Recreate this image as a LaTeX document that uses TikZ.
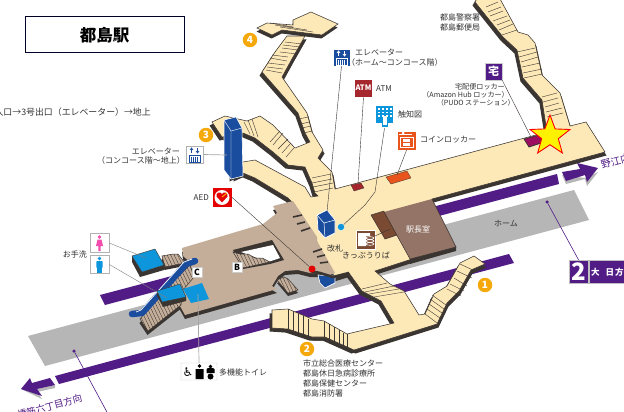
\documentclass[tikz,border=0pt]{standalone}
\usepackage{fontspec}
\setmainfont{Noto Sans CJK JP}
\newfontfamily\symfont{DejaVu Sans}
\usetikzlibrary{shapes.geometric}
\definecolor{creamc}{HTML}{FDE8B7}
\definecolor{tanc}{HTML}{C4AE9A}
\definecolor{darkc}{HTML}{3B3532}
\definecolor{navyc}{HTML}{1B4D9E}
\definecolor{skyc}{HTML}{0D96DB}
\definecolor{purc}{HTML}{521C87}
\definecolor{grayc}{HTML}{B6B6B6}
\definecolor{roomc}{HTML}{937466}
\definecolor{stripc}{HTML}{7A4A32}
\definecolor{orangec}{HTML}{E9541C}
\definecolor{atmc}{HTML}{A6262E}
\definecolor{plumc}{HTML}{9C0D62}
\definecolor{badgec}{HTML}{F5A80A}
\definecolor{txtc}{HTML}{333333}
\newcommand\mainpoly{(335,189) -- (547,132) -- (542,100) -- (523,78) -- (517,50) -- (503,37) -- (475,2) -- (478,-3) -- (499,-3) -- (518,32) -- (528,35) -- (535,43) -- (542,75) -- (560,93) -- (570,126) -- (586,122) -- (605,152) -- (432,199) -- (412,259) -- (375,271) -- (390,284) -- (404,291) -- (419,315) -- (425,314) -- (434,294) -- (447,286) -- (460,263) -- (474,256) -- (485,264) -- (471,270) -- (459,291) -- (447,303) -- (437,324) -- (354,350) -- (325,337) -- (312,337) -- (288,329) -- (272,328) -- (272,310) -- (288,309) -- (312,319) -- (324,321) -- (347,334) -- (394,323) -- (381,301) -- (362,291) -- (349,273) -- (333,278) -- (320,272) -- (300,240) -- (295,205) -- (288,198) -- (255,178) -- (243,173) -- (232,178) -- (232,165) -- (243,162) -- (255,160) -- (305,187) -- (311,197) -- (318,196) -- (315,193) -- (312,183) -- (305,167) -- (288,165) -- (273,152) -- (255,138) -- (243,133) -- (222,137) -- (212,122) -- (225,116) -- (238,119) -- (247,121) -- (260,116) -- (273,125) -- (295,148) -- (310,142) -- (305,133) -- (298,113) -- (262,72) -- (275,52) -- (287,36) -- (305,36) -- (293,57) -- (282,77) -- (307,113) -- (312,132) -- (323,150) -- (318,158) -- (332,172) -- cycle}
\newcommand\toppoly{(257,28) -- (267,23) -- (293,25) -- (293,20) -- (311,12) -- (338,24) -- (322,35) -- (282,30) -- (272,35) -- cycle}
\newcommand\tanpoly{(182,248) -- (263,224) -- (277,213) -- (273,206) -- (293,201) -- (317,237) -- (317,241) -- (335,273) -- (327,276) -- (320,273) -- (310,273) -- (298,270) -- (285,271) -- (278,276) -- (272,286) -- (277,289) -- (185,315) -- (180,306) -- (172,290) -- (190,262) -- (183,256) -- cycle}
\newcommand\hatchc{(140,319) -- (165,290) -- (190,265) -- (194,277) -- (183,290) -- (181,305) -- (172,312) -- (148,331) -- cycle}
\newcommand\hatchw{(162,256) -- (173,254) -- (178,254) -- (185,263) -- (165,267) -- cycle}
\newcommand\hatchb{(233,252) -- (243,268) -- (270,262) -- (262,258) -- (255,258) -- (248,254) -- (240,254) -- cycle}
\newcommand\hatchd{(277,280) -- (284,277) -- (288,279) -- (298,290) -- (288,293) -- cycle}
\newcommand\hatched[1]{\begin{scope}\clip #1;\fill[tanc] #1;\foreach \x in {90,93.5,...,320}{\draw[darkc,line width=.35] (\x,240) -- ({\x+48},340);}\end{scope}\draw[darkc,line width=.5] #1;}
\newcommand\elevglyph[4]{\begin{scope}[shift={(#1,#2)},#3,line width=.7]
\draw (-3,-7) -- (-3,-2);\draw (3,-7) -- (3,-2);
\draw (-4.5,-5) -- (-3,-7) -- (-1.5,-5);\draw (1.5,-4) -- (3,-2) -- (4.5,-4);
\draw[fill=#4] (-5.5,0) rectangle (5.5,7);
\foreach \u in {-3,-1,1,3}{\draw (\u,2) -- (\u,7);}
\end{scope}}
\tikzset{
 stairline/.style={darkc,line width=.4},
 shadowp/.style={fill=darkc},
 outlinep/.style={draw=darkc,line width=.55},
 lbl/.style={inner sep=0,text=txtc,font=\fontsize{8}{8}\selectfont},
 lblsmall/.style={lbl,font=\fontsize{7.1}{7.1}\selectfont},
 badge/.style={circle,fill=badgec,text=white,inner sep=0,minimum size=14.5,font=\bfseries\fontsize{10}{10}\selectfont},
 iconbox/.style={draw=white,line width=.4,inner sep=0,minimum size=#1},
 lead/.style={draw=darkc,line width=.4},
 glead/.style={draw=gray!70,line width=.7},
 letter/.style={draw=gray!40,fill=white,inner sep=0,minimum size=10.5,text=black,font=\bfseries\fontsize{8.5}{8.5}\selectfont},
 wcbox/.style={draw=gray!60,fill=white,line width=.6,inner sep=0,minimum width=19,minimum height=18.5},
 dotp/.style={circle,fill=purc,inner sep=0,minimum size=3.5},
}
\begin{document}
\begin{tikzpicture}[x=1pt,y=-1pt]
\useasboundingbox (0,0) rectangle (624,412);
\fill[white] (0,0) rectangle (624,412);
% platform and tracks
\fill[grayc] (28,336) -- (574,190) -- (589,220) -- (45,366) -- cycle;
\fill[purc] (100,295) -- (557,174) -- (559,184) -- (105,305) -- cycle;
\fill[purc] (55,376) -- (509,254) -- (514,263) -- (59,384) -- cycle;
\node[dotp] (dotr) at (547,202) {};
\node[dotp] (dotl) at (74,351) {};
% direction arrows
\fill[grayc] (562,175) -- (566,184) -- (585,179) -- (587,186) -- (598,172) -- (585,178) -- cycle;
\fill[purc] (562,172) -- (566,181) -- (585,175) -- (587,182) -- (598,168) -- (577,163) -- (580,169) -- cycle;
\fill[grayc] (21,389) -- (42,399) -- (37,392) -- (55,388) -- (55,385) -- (37,389) -- cycle;
\fill[purc] (50,378) -- (55,385) -- (37,389) -- (42,396) -- (21,389) -- (30,378) -- (32,383) -- cycle;
% concourse
\fill[shadowp,shift={(-2.5,3.5)}] \mainpoly;
\fill[shadowp,shift={(1.5,3.5)}] \mainpoly;
\fill[creamc,outlinep] \mainpoly;
% stair lines
\foreach \a/\b/\c/\d in {312/178/331/174,312/183/332/179,313/187/333/183,314/192/333/188,
 299/119/308/117,301/124/309/122,302/128/311/126,304/133/312/131,
 270/142/280/131,273/145/283/133,278/149/288/139,282/153/291/143,286/157/294/148,
 244/122/250/134,248/120/254/136,252/119/258/137,
 285/42/302/44,283/45/300/47,282/48/298/50,280/52/297/54,272/55/288/57,270/58/287/61,268/63/285/65,267/67/283/69,266/70/282/73,
 486/7/498/2,488/12/501/7,490/16/503/11,493/21/507/16,497/25/510/20,499/30/513/24,502/35/517/30,
 517/52/535/48,519/57/537/52,521/62/538/57,522/67/540/63,523/73/542/69,524/78/542/74,
 542/97/557/93,543/102/558/98,545/107/559/103,546/112/562/108,547/117/563/113,
 432/295/446/305,430/299/444/309,429/304/442/313,427/309/440/318,425/314/437/323,
 460/264/475/271,457/271/472/278,454/278/467/286,450/284/464/291,447/289/461/296,
 362/289/387/283,365/292/394/286,369/294/399/289,374/297/404/292,
 324/321/324/337,329/324/329/339,334/327/334/342,339/330/339/345,343/333/343/347,347/334/347/349,
 288/309/288/329,293/311/293/331,298/314/298/334,303/316/303/336,308/319/308/338}
 {\draw[stairline] (\a,\b) -- (\c,\d);}
% exit 4 upper piece
\fill[shadowp,shift={(-.5,3.5)}] \toppoly;
\fill[creamc,outlinep] \toppoly;
\draw[stairline] (270,23) -- (293,27) (275,25) -- (307,30) (280,27) -- (313,32);
% tan area
\fill[shadowp,shift={(-.5,3)}] \hatchw;
\hatched{\hatchw}
\fill[shadowp,shift={(-.5,4)}] \hatchc;
\fill[shadowp,shift={(0,4)}] \tanpoly;
\fill[tanc] \tanpoly;
\hatched{\hatchc}
% hole in tan
\fill[darkc] (233,250) -- (272,240) -- (284,260) -- (270,264) -- (243,269) -- cycle;
\fill[white] (241,252) -- (273,245) -- (280,258) -- (268,262) -- cycle;
\hatched{\hatchb}
\fill[shadowp,shift={(0,3)}] \hatchd;
\hatched{\hatchd}
\foreach \a/\b/\c/\d in {293/217/302/215,297/224/305/222,301/231/310/228,313/252/322/249,317/257/325/255,320/263/328/262}
 {\draw[darkc,line width=1.6] (\a,\b) -- (\c,\d);}
% station room
\fill[shadowp] (410,259) -- (456,246) -- (456,251) -- (410,264) -- cycle;
\fill[roomc] (384,212) -- (432,199) -- (456,247) -- (410,259) -- cycle;
\fill[stripc] (371,215) -- (384,211) -- (397,235) -- (385,239) -- cycle;
\draw[darkc,line width=.5] (432,199) -- (456,247) -- (410,259) -- (384,212) (384,211) -- (371,215) -- (385,239) -- (397,235);
% kiosks and small units
\fill[atmc,draw=darkc,line width=.3] (351,185) -- (361,183) -- (364,188) -- (354,191) -- cycle;
\fill[orangec,draw=darkc,line width=.3] (386,177) -- (407,171) -- (411,178) -- (391,184) -- cycle;
\fill[plumc,draw=darkc,line width=.8] (524,139) -- (539,135) -- (544,142) -- (529,147) -- cycle;
% escalator
\draw[navyc,line width=6.5,line cap=round,line join=round] (132,314) -- (142,313) -- (186,264) -- (195,261);
\draw[white,line width=.7] (136,312) -- (141,310) -- (184,262) -- (192,259);
% blue blocks
\fill[shadowp] (132,256) -- (142,272) -- (164,265) -- (164,270) -- (140,277) -- (132,262) -- cycle;
\fill[skyc,draw=darkc,line width=.4] (132,256) -- (155,249) -- (164,265) -- (142,272) -- cycle;
\fill[shadowp] (157,291) -- (162,302) -- (186,297) -- (186,301) -- (163,307) -- (157,296) -- cycle;
\fill[skyc,draw=darkc,line width=.4] (157,291) -- (180,284) -- (186,297) -- (162,302) -- cycle;
\fill[skyc] (183,289) -- (202,283) -- (209,299) -- (191,303) -- cycle;
% elevator tower and boxes
\fill[navyc,draw=white,line width=.6] (224,120) -- (236,117) -- (242,128) -- (243,176) -- (231,179) -- (224,170) -- cycle;
\draw[white,line width=.4] (224,120) -- (231,131) -- (242,128) (231,131) -- (231,179);
\fill[navyc,draw=white,line width=.7] (318,275) -- (335,276) -- (335,283) -- (325,288) -- (320,283) -- cycle;
\draw[darkc,line width=2.6] (310,271) -- (320,273) -- (333,277) -- (349,273);
\fill[navyc,draw=white,line width=.7] (317,215) -- (327,210) -- (335,220) -- (335,233) -- (325,238) -- (318,230) -- cycle;
\draw[white,line width=.5] (317,215) -- (324,223) -- (335,220) (324,223) -- (325,238);
\coordinate (elevboxtop) at (327,212);
\coordinate (atmunit) at (358,184);
\coordinate (coinunit) at (397,175);
\coordinate (plumunit) at (531,137);
\coordinate (towerside) at (227,155);
\coordinate (stripmark) at (390,229);
\coordinate (ladies) at (146,258);
\coordinate (mens) at (167,298);
\coordinate (wcblock) at (198,294);
\coordinate (tactbend) at (375,192);
\coordinate (tactbend2) at (365,205);
\coordinate (offpage) at (108,414);
% dots
\node[circle,fill=skyc,draw=white,line width=.3,inner sep=0,minimum size=7] (bluedot) at (341,227) {};
\node[circle,fill=red!90!black,inner sep=0,minimum size=7] (reddot) at (312,269) {};
% star
\node[star,star points=5,star point ratio=2.4,fill=yellow,draw=red,line width=.9,inner sep=0,minimum size=42] (star) at (550,136) {};
% title
\node[draw=black!85!blue,line width=1,fill=white,minimum width=159,minimum height=36,inner sep=0,font=\fontsize{16.5}{16.5}\selectfont\bfseries] (title) at (104.5,35) {都島駅};
% exit badges
\node[badge] (exit4) at (250,40) {4};
\node[badge] (exit3) at (206,135) {3};
\node[badge] (exit2) at (307,349) {2};
\node[badge] (exit1) at (485,285) {1};
% icons
\node[iconbox=17,fill=navyc] (ielev) at (341.5,57.5) {};
\elevglyph{341.5}{58}{white}{navyc}
\node[iconbox=18,fill=atmc,text=white,font=\bfseries\fontsize{7.5}{7.5}\selectfont] (iatm) at (363.5,88) {ATM};
\node[iconbox=18,fill=skyc] (itact) at (384.5,114) {};
\fill[skyc] (381.5,122) rectangle (387.5,127);
\foreach \i in {378,382,386,390}\foreach \j in {108,111.5,115}{\fill[white] (\i,\j) rectangle ++(1.8,1.8);}
\fill[white] (382.5,116) rectangle (386.5,125);
\node[iconbox=19,fill=orangec] (icoin) at (406.5,140.5) {};
\draw[white,line width=1] (399,134) -- (412,134);
\fill[white] (403,133) circle (1.5);
\draw[white,line width=.9] (400,137.5) rectangle (413,147.5);
\fill[white] (403,139) rectangle (410,146);
\draw[orangec,line width=.5] (403,142) -- (410,142);
\node[iconbox=17,fill=purc,text=white,font=\bfseries\fontsize{11}{11}\selectfont,draw=gray!40] (itaku) at (493.5,71.5) {宅};
\node[draw=gray!60,fill=white,line width=.6,inner sep=0,minimum size=17] (ielev3) at (194.5,154.5) {};
\elevglyph{194.5}{155}{navyc}{white}
\node[iconbox=20,fill=red!90!black] (iaed) at (222,197.5) {};
\fill[white] (222,197.5) circle (7.5);
\fill[red!90!black] (222,202.5) -- (216.5,196.5) .. controls (215.5,192.5) and (220.5,191) .. (222,194) .. controls (223.5,191) and (228.5,192.5) .. (227.5,196.5) -- cycle;
\draw[yellow!80!orange,line width=.7] (222,197) -- (227,193);
\node[iconbox=19,fill=stripc] (iticket) at (365.5,239.5) {};
\fill[white] (358,233) -- (370,233) -- (370,236) -- (366,236) -- (366,246) -- (358,246) -- cycle;
\draw[white,line width=.6] (370,238) ellipse (4 and 1.3) (370,241) ellipse (4 and 1.3) (370,244) ellipse (4 and 1.3);
\node[wcbox] (ifem) at (99.5,243) {};
\fill[magenta!70] (99.5,237) circle (1.8);
\fill[magenta!70] (97.5,239.5) -- (101.5,239.5) -- (103,246) -- (100.7,246) -- (100.7,251) -- (98.3,251) -- (98.3,246) -- (96,246) -- cycle;
\node[wcbox] (imale) at (99.5,264.5) {};
\fill[skyc] (99.5,258.5) circle (1.9);
\fill[skyc,rounded corners=.8] (96.3,261) rectangle (102.7,268);
\fill[skyc] (97.3,267) rectangle (101.7,273);
\node[draw=gray!40,fill=white,line width=.4,rounded corners=.5,inner sep=0,minimum width=36,minimum height=17] (iwc) at (199,371.5) {};
\node[inner sep=0,font=\symfont\fontsize{12}{12}\selectfont,text=black] (iwheel) at (188,372) {♿};
\fill[black] (199.5,366) circle (1.8) (195.5,369) rectangle (203.5,379);
\fill[black] (210.5,366.5) circle (1.8) (206.5,369) .. controls (207,367.5) and (214,367.5) .. (214.5,369) -- (214.5,373) -- (206.5,373) -- cycle;
\fill[black] (210.5,376.5) circle (3);
\node[letter] (lc) at (197,272) {C};
\node[letter] (lb) at (237,267) {B};
% purple sign
\node[draw=gray!50,fill=purc,text=white,inner sep=0,minimum width=19,minimum height=23,font=\bfseries\fontsize{24}{24}\selectfont] (line2) at (578.5,271.5) {2};
\fill[purc,draw=gray!50] (589.5,260) rectangle (626,283);
\node[anchor=west,inner sep=0,text=white,font=\bfseries\fontsize{8.5}{8.5}\selectfont] (line2name) at (591,272) {大\hspace{6pt}日\hspace{1pt}方};
% leaders
\draw[lead] (ielev.south) -- (elevboxtop);
\draw[lead] (iatm.south) -- (atmunit);
\draw[lead] (icoin.south) -- (coinunit);
\draw[lead] (itact.south) ++(0,5) -- (tactbend) -- (tactbend2) -- (bluedot);
\draw[lead] (itaku.south east) -- (plumunit);
\draw[glead] (ielev3.east) -- (towerside);
\draw[lead] (iaed.east) -- (reddot);
\draw[lead] (iticket.20) -- (stripmark);
\draw[lead,draw=gray] (ifem.east) -- (ladies);
\draw[lead,draw=gray] (imale.east) -- (mens);
\draw[glead] (iwc.north) -- (wcblock);
\draw[purc,line width=.6] (dotr) -- (line2.north);
\draw[purc,line width=.6] (dotl) -- (offpage);
% labels
\node[lbl,anchor=east,font=\fontsize{8.9}{8.9}\selectfont] (t1) at (151,112) {入口→3号出口（エレベーター）→地上};
\node[lbl,anchor=east] (t2) at (180,151) {エレベーター};
\node[lbl,anchor=east] (t3) at (185,160.5) {（コンコース階〜地上）};
\node[lbl,anchor=west] (t4) at (355,52) {エレベーター};
\node[lbl,anchor=west] (t5) at (347,62) {（ホーム〜コンコース階）};
\node[lbl,anchor=west] (t6) at (376,89) {ATM};
\node[lbl,anchor=west] (t7) at (398,114) {触知図};
\node[lbl,anchor=west] (t8) at (420,140) {コインロッカー};
\node[lbl,anchor=west] (t9) at (440,17) {都島警察署};
\node[lbl,anchor=west] (t10) at (440,27) {都島郵便局};
\node[lblsmall,anchor=east] (t11) at (505,87) {宅配便ロッカー};
\node[lblsmall,anchor=east] (t12) at (509,95) {（Amazon Hub ロッカー）};
\node[lblsmall,anchor=east] (t13) at (515,103) {（PUDO ステーション）};
\node[lbl,anchor=east] (t14) at (209,198) {AED};
\node[lbl,anchor=east] (t15) at (87,254) {お手洗};
\node[lbl,anchor=west] (t16) at (219,372) {多機能トイレ};
\node[lbl,anchor=west] (t17) at (303,363) {市立総合医療センター};
\node[lbl,anchor=west] (t18) at (303,373) {都島休日急病診療所};
\node[lbl,anchor=west] (t19) at (303,383) {都島保健センター};
\node[lbl,anchor=west] (t20) at (303,393) {都島消防署};
\node[lbl] (t21) at (506,223) {ホーム};
\node[lbl] (t22) at (335,248) {改札};
\node[lbl] (t23) at (366,255) {きっぷうりば};
\node[lbl,text=white] (t24) at (418,229) {駅長室};
\node[anchor=west,inner sep=0,rotate=15,text=purc,font=\fontsize{10}{10}\selectfont] (t25) at (601,165) {野江内};
\node[anchor=east,inner sep=0,rotate=15,text=purc,font=\fontsize{9.5}{9.5}\selectfont] (t26) at (82,398) {橋筋六丁目方向};
\end{tikzpicture}
\end{document}
